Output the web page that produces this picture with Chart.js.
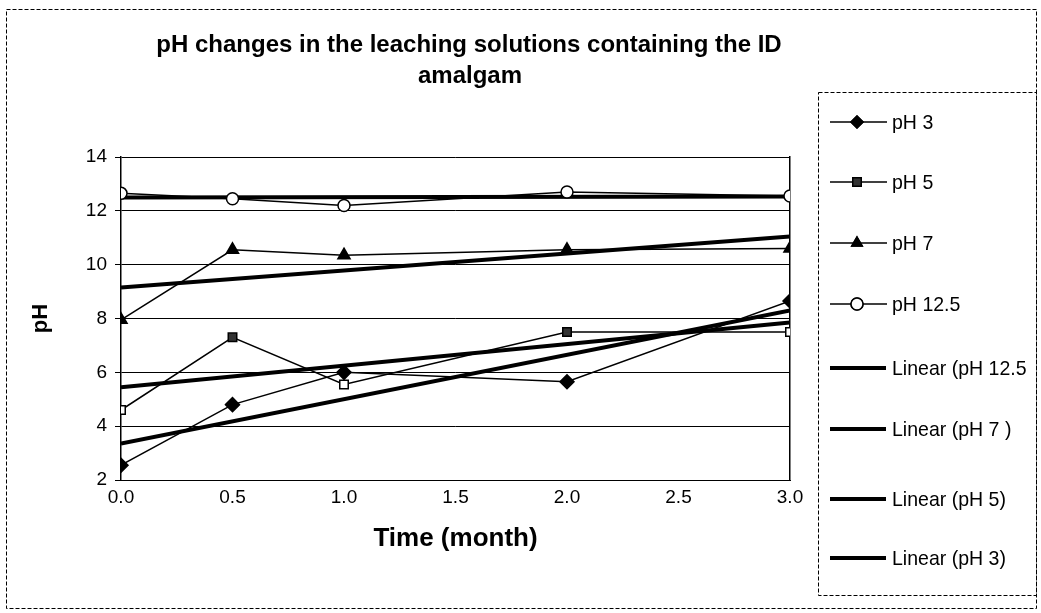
<!DOCTYPE html>
<html>
<head>
<meta charset="utf-8">
<script src="https://cdn.jsdelivr.net/npm/chart.js@4"></script>
<style>
  html, body { margin: 0; padding: 0; background: #fff; }
  #wrap { width: 1041px; height: 613px; position: relative; }
</style>
</head>
<body>
<div id="wrap"><canvas id="chart"></canvas></div>
<script>
// values
const months   = [0, 0.5, 1, 2, 3];
const ph3      = [2.55, 4.8, 6.0, 5.65, 8.65];
const ph5      = [4.6, 7.3, 5.55, 7.5, 7.5];
const ph7      = [7.95, 10.55, 10.35, 10.55, 10.6];
const ph125    = [12.65, 12.45, 12.2, 12.7, 12.55];

// trend line end points (x = 0 and x = 3)
const trendX   = [0, 3];
const trend125 = [12.5, 12.53];
const trend7   = [9.15, 11.05];
const trend5   = [5.45, 7.85];
const trend3   = [3.35, 8.3];

const legendLabels = ['pH 3', 'pH 5', 'pH 7', 'pH 12.5',
  'Linear (pH 12.5', 'Linear (pH 7 )', 'Linear (pH 5)', 'Linear (pH 3)'];

const FONT = "'Liberation Sans', Arial, sans-serif";

const pts = (xs, ys) => xs.map((x, i) => ({ x, y: ys[i] }));

function markerSeries(label, ys, style, fill, radius) {
  return {
    label,
    data: pts(months, ys),
    borderColor: '#000',
    borderWidth: 1.5,
    pointStyle: style,
    pointRadius: radius,
    pointBackgroundColor: fill,
    pointBorderColor: '#000',
    pointBorderWidth: 1.5,
    tension: 0,
  };
}

function trendSeries(label, ys) {
  return {
    label,
    data: pts(trendX, ys),
    borderColor: '#000',
    borderWidth: 4,
    pointRadius: 0,
    tension: 0,
  };
}

const datasets = [
  markerSeries('pH 3', ph3, 'rectRot', '#000', 7),
  markerSeries('pH 5', ph5, 'rect', ['#fff', '#333', '#fff', '#333', '#fff'], 6),
  markerSeries('pH 7', ph7, 'triangle', '#000', 7),
  markerSeries('pH 12.5', ph125, 'circle', '#fff', 6),
  trendSeries('Linear (pH 12.5)', trend125),
  trendSeries('Linear (pH 7 )', trend7),
  trendSeries('Linear (pH 5)', trend5),
  trendSeries('Linear (pH 3)', trend3),
];

/* -------- background, frame, title and legend -------- */

const LEGEND_Y = [122, 182, 243, 304, 368, 429, 499, 558];

const decor = {
  id: 'decor',
  beforeDraw(chart) {
    const c = chart.ctx;
    c.save();
    c.fillStyle = '#fff';
    c.fillRect(0, 0, chart.width, chart.height);
    c.restore();
  },
  afterDraw(chart) {
    const c = chart.ctx;
    c.save();

    // outer frame
    c.strokeStyle = '#000';
    c.lineWidth = 1;
    c.setLineDash([4, 2]);
    c.strokeRect(6.5, 9.5, 1030, 599);

    // legend box
    c.strokeRect(818.5, 92.5, 218, 503);
    c.setLineDash([]);

    // title
    c.fillStyle = '#000';
    c.font = `bold 24px ${FONT}`;
    c.textAlign = 'center';
    c.textBaseline = 'middle';
    c.fillText('pH changes in the leaching solutions containing the ID', 469, 45);
    c.fillText('amalgam', 470, 76);

    // legend entries
    const styles = ['rectRot', 'rect', 'triangle', 'circle'];
    const fills  = ['#000', '#333', '#000', '#fff'];
    legendLabels.forEach((label, i) => {
      const y = LEGEND_Y[i];
      c.strokeStyle = '#000';
      if (i < 4) {
        c.lineWidth = 1.5;
        c.beginPath(); c.moveTo(830, y); c.lineTo(887, y); c.stroke();
        c.fillStyle = fills[i];
        Chart.helpers.drawPoint(c, { pointStyle: styles[i], radius: 6, rotation: 0, borderWidth: 1.5 }, 857, y);
        c.fill();
        c.stroke();
      } else {
        c.lineWidth = 4;
        c.beginPath(); c.moveTo(830, y); c.lineTo(886, y); c.stroke();
      }
      c.save();
      c.translate(892, y + 1);
      c.scale(0.93, 1);
      c.fillStyle = '#000';
      c.font = `21px ${FONT}`;
      c.textAlign = 'left';
      c.fillText(label, 0, 0);
      c.restore();
    });
    c.restore();
  },
};

new Chart(document.getElementById('chart'), {
  type: 'line',
  data: { datasets },
  plugins: [decor],
  options: {
    responsive: true,
    maintainAspectRatio: false,
    animation: false,
    layout: { padding: { top: 157, right: 251, left: 0, bottom: 0 } },
    plugins: {
      legend: { display: false },
      title: { display: false },
      tooltip: { enabled: false },
    },
    scales: {
      x: {
        type: 'linear',
        min: 0,
        max: 3,
        afterFit: s => { s.height = 133; },
        ticks: {
          stepSize: 0.5,
          color: '#000',
          font: { size: 19, family: FONT },
          padding: 6,
          callback: v => v.toFixed(1),
        },
        grid: { display: false, drawTicks: false },
        border: { display: true, color: '#000', width: 1 },
        title: {
          display: true,
          text: 'Time (month)',
          color: '#000',
          font: { size: 26, weight: 'bold', family: FONT },
          padding: { top: 0, bottom: 59 },
        },
      },
      y: {
        min: 2,
        max: 14,
        afterFit: s => { s.width = 121; },
        ticks: {
          stepSize: 2,
          color: '#000',
          font: { size: 19, family: FONT },
          padding: 8,
        },
        grid: { color: '#000', lineWidth: 1, tickLength: 6 },
        border: { display: true, color: '#000', width: 1.5 },
        title: {
          display: true,
          text: 'pH',
          color: '#000',
          font: { size: 22, weight: 'bold', family: FONT },
          padding: { top: 28, bottom: 0 },
        },
      },
      y2: {
        position: 'right',
        min: 2,
        max: 14,
        afterFit: s => { s.width = 0; },
        ticks: { display: false },
        grid: { display: false },
        border: { display: true, color: '#000', width: 1.5 },
      },
    },
  },
});
</script>
</body>
</html>
